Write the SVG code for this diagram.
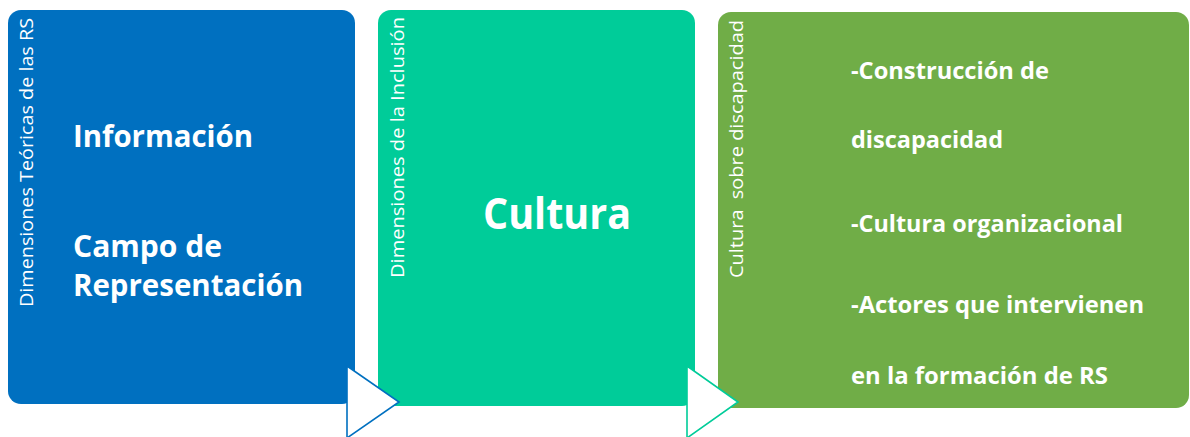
<svg xmlns="http://www.w3.org/2000/svg" width="1190" height="437" viewBox="0 0 1190 437">
<style>
.side{font-family:"Open Sans","Liberation Sans",sans-serif;font-weight:400;font-size:18.5px;fill:#ffffff}
.big{font-family:"Open Sans","Liberation Sans",sans-serif;font-weight:700;fill:#ffffff}
.arrow{fill:#ffffff;stroke-width:1.6}
</style>
<rect width="1190" height="437" fill="#ffffff"/>
<g id="node-rs">
<rect x="8" y="10" width="347" height="394" rx="13" fill="#0070C0"/>
<text class="side" transform="translate(33,307) rotate(-90)" textLength="289" lengthAdjust="spacingAndGlyphs">Dimensiones Teóricas de las RS</text>
<text class="big" x="73" y="147" font-size="31" textLength="180" lengthAdjust="spacingAndGlyphs">Información</text>
<text class="big" x="73" y="257" font-size="31" textLength="149" lengthAdjust="spacingAndGlyphs">Campo de</text>
<text class="big" x="73" y="296" font-size="31" textLength="230" lengthAdjust="spacingAndGlyphs">Representación</text>
</g>
<g id="node-inclusion">
<rect x="378" y="10" width="317" height="396" rx="13" fill="#00CC99"/>
<text class="side" transform="translate(404,278) rotate(-90)" textLength="261" lengthAdjust="spacingAndGlyphs">Dimensiones de la Inclusión</text>
<text class="big" x="483" y="229" font-size="43" textLength="148" lengthAdjust="spacingAndGlyphs">Cultura</text>
</g>
<g id="node-cultura">
<rect x="718" y="12" width="471" height="396" rx="13" fill="#70AD47"/>
<text class="side" transform="translate(743,278) rotate(-90)" textLength="258" lengthAdjust="spacingAndGlyphs" xml:space="preserve">Cultura  sobre discapacidad</text>
<text class="big" x="851" y="79" font-size="24" textLength="198" lengthAdjust="spacingAndGlyphs">-Construcción de</text>
<text class="big" x="851" y="148" font-size="24" textLength="152" lengthAdjust="spacingAndGlyphs">discapacidad</text>
<text class="big" x="851" y="232" font-size="24" textLength="272" lengthAdjust="spacingAndGlyphs">-Cultura organizacional</text>
<text class="big" x="851" y="313" font-size="24" textLength="293" lengthAdjust="spacingAndGlyphs">-Actores que intervienen</text>
<text class="big" x="851" y="384" font-size="24" textLength="257" lengthAdjust="spacingAndGlyphs">en la formación de RS</text>
</g>
<g id="connectors">
<polygon class="arrow" points="347,366 399,402 347,438" stroke="#0070C0"/>
<polygon class="arrow" points="687,366 738,402 687,438" stroke="#00CC99"/>
</g>
</svg>
